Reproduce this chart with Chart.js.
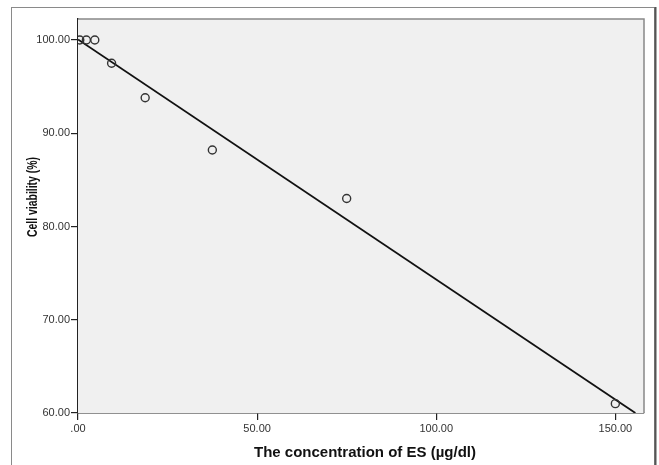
<!DOCTYPE html>
<html>
<head>
<meta charset="utf-8">
<script src="https://cdn.jsdelivr.net/npm/chart.js@4.4.1/dist/chart.umd.min.js"></script>
<style>
  html, body { margin: 0; padding: 0; background: #fff; }
  #wrap { width: 659px; height: 465px; }
</style>
</head>
<body>
<div id="wrap"><canvas id="chart" width="659" height="465"></canvas></div>
<script>
// ---- data ----
const concentration = [0.5, 2.34, 4.69, 9.38, 18.75, 37.5, 75, 150];
const viability = [100.0, 100.0, 100.0, 97.5, 93.8, 88.2, 83.0, 61.0];
// fitted line end points
const fitX = [0, 155.6];
const fitY = [100.05, 60.0];
const xTicks = [0, 50, 100, 150];
const yTicks = [60, 70, 80, 90, 100];
const xTitle = 'The concentration of ES (µg/dl)';
const yTitle = 'Cell viability (%)';

const fmt = v => (v === 0 ? '.00' : Number(v).toFixed(2));

// plot background, borders, outer frame and axis titles
const framePlugin = {
    id: 'frame',
    beforeDatasetsDraw(chart) {
        const { ctx, chartArea: a } = chart;
        ctx.save();
        ctx.fillStyle = '#f0f0f0';
        ctx.fillRect(a.left, a.top, a.right - a.left, a.bottom - a.top);
        ctx.restore();
    },
    beforeDraw(chart) {
        const { ctx } = chart;
        ctx.save();
        ctx.strokeStyle = '#8a8a8a';
        ctx.lineWidth = 1;
        ctx.strokeRect(11.5, 7.5, 643, 470);
        ctx.strokeStyle = '#555';
        ctx.lineWidth = 2;
        ctx.beginPath(); ctx.moveTo(655.5, 7); ctx.lineTo(655.5, 465); ctx.stroke();
        ctx.restore();
    },
    afterDraw(chart) {
        const { ctx, chartArea: a } = chart;
        ctx.save();
        ctx.strokeStyle = '#888';
        ctx.lineWidth = 1.5;
        ctx.beginPath();
        ctx.moveTo(a.left, a.top); ctx.lineTo(a.right, a.top); ctx.lineTo(a.right, a.bottom);
        ctx.stroke();
        ctx.fillStyle = '#111';
        ctx.textAlign = 'center';
        ctx.textBaseline = 'middle';
        ctx.font = 'bold 15px "Liberation Sans", Arial, sans-serif';
        ctx.fillText(xTitle, 365, 453);
        ctx.translate(33, 197);
        ctx.rotate(-Math.PI / 2);
        ctx.font = 'bold 15px "Liberation Sans", Arial, sans-serif';
        ctx.fillText(yTitle, 0, 0, 80);
        ctx.restore();
    }
};

new Chart(document.getElementById('chart'), {
    type: 'scatter',
    data: {
        datasets: [
            {
                label: 'Observed',
                data: concentration.map((x, i) => ({ x, y: viability[i] })),
                pointRadius: 4,
                pointHoverRadius: 4,
                pointBorderWidth: 1.4,
                pointBorderColor: '#333',
                pointBackgroundColor: 'rgba(0,0,0,0)',
                order: 1
            },
            {
                label: 'Fit',
                type: 'line',
                data: fitX.map((x, i) => ({ x, y: fitY[i] })),
                borderColor: '#111',
                borderWidth: 1.8,
                pointRadius: 0,
                fill: false,
                order: 2
            }
        ]
    },
    options: {
        responsive: false,
        animation: false,
        devicePixelRatio: 1,
        layout: { autoPadding: false, padding: { top: 19, right: 15, left: 0, bottom: 0 } },
        plugins: { legend: { display: false }, tooltip: { enabled: false } },
        scales: {
            x: {
                type: 'linear', min: 0, max: 158,
                afterFit: s => { s.height = 52; },
                afterBuildTicks: s => { s.ticks = xTicks.map(v => ({ value: v })); },
                grid: { display: true, drawOnChartArea: false, drawTicks: true, tickLength: 7, color: '#222', lineWidth: 1.2 },
                border: { display: true, color: '#222', width: 1.5 },
                ticks: { callback: fmt, color: '#333', padding: 2, maxRotation: 0,
                         font: { family: '"Liberation Sans", Arial, sans-serif', size: 11 } }
            },
            y: {
                type: 'linear', min: 60, max: 102.25,
                afterFit: s => { s.width = 78; },
                afterBuildTicks: s => { s.ticks = yTicks.map(v => ({ value: v })); },
                grid: { display: true, drawOnChartArea: false, drawTicks: true, tickLength: 7, color: '#222', lineWidth: 1.2 },
                border: { display: true, color: '#222', width: 1.5 },
                ticks: { callback: fmt, color: '#333', padding: 1,
                         font: { family: '"Liberation Sans", Arial, sans-serif', size: 11 } }
            }
        }
    },
    plugins: [framePlugin]
});
</script>
</body>
</html>
